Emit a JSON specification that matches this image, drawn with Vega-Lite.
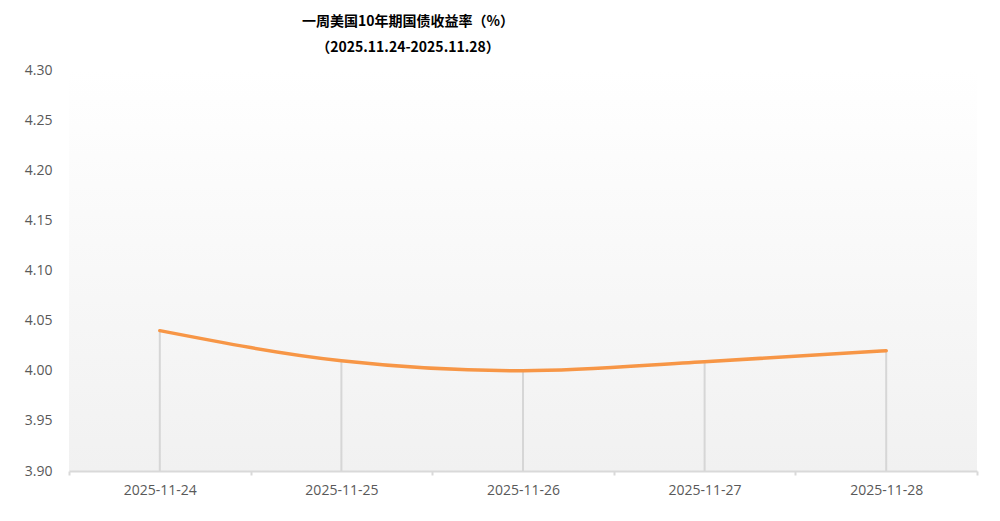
{
  "$schema": "https://vega.github.io/schema/vega-lite/v6.json",
  "width": 908,
  "height": 401,
  "autosize": {"type": "none"},
  "padding": {"left": 69, "top": 70, "right": 23, "bottom": 50},
  "background": "#ffffff",
  "data": {
    "values": [
      {"date": "2025-11-24", "yield": 4.04},
      {"date": "2025-11-25", "yield": 4.01},
      {"date": "2025-11-26", "yield": 4.00},
      {"date": "2025-11-27", "yield": 4.009},
      {"date": "2025-11-28", "yield": 4.02}
    ]
  },
  "title": {
    "text": ["一周美国10年期国债收益率（%）", "（2025.11.24-2025.11.28）"],
    "anchor": "middle",
    "dx": -115,
    "offset": 8,
    "font": "Noto Sans CJK SC",
    "fontSize": 14,
    "fontWeight": "bold",
    "color": "#000000",
    "lineHeight": 26
  },
  "config": {
    "view": {
      "stroke": null,
      "fill": {
        "gradient": "linear",
        "x1": 0, "y1": 0, "x2": 0, "y2": 1,
        "stops": [
          {"offset": 0, "color": "#ffffff"},
          {"offset": 1, "color": "#f1f1f1"}
        ]
      }
    },
    "axis": {
      "labelFont": "Open Sans",
      "labelFontSize": 14,
      "labelColor": "#595959",
      "grid": false,
      "title": null
    }
  },
  "encoding": {
    "x": {
      "field": "date",
      "type": "nominal",
      "sort": null,
      "scale": {"paddingInner": 0, "paddingOuter": 0},
      "axis": {
        "labelAngle": 0,
        "tickBand": "extent",
        "domainColor": "#d9d9d9",
        "domainWidth": 2,
        "tickColor": "#d9d9d9",
        "tickWidth": 2,
        "tickSize": 4,
        "labelPadding": 8
      }
    }
  },
  "layer": [
    {
      "mark": {"type": "rule", "color": "#d6d6d6", "strokeWidth": 2},
      "encoding": {
        "y": {
          "field": "yield",
          "type": "quantitative",
          "scale": {"domain": [3.9, 4.3], "nice": false, "zero": false},
          "axis": {
            "values": [3.9, 3.95, 4.0, 4.05, 4.1, 4.15, 4.2, 4.25, 4.3],
            "format": ".2f",
            "domain": false,
            "ticks": false,
            "labelPadding": 17
          }
        },
        "y2": {"datum": 3.9}
      }
    },
    {
      "mark": {"type": "line", "color": "#f79646", "strokeWidth": 3.5, "interpolate": "monotone", "strokeCap": "round"},
      "encoding": {
        "y": {"field": "yield", "type": "quantitative"}
      }
    }
  ]
}
